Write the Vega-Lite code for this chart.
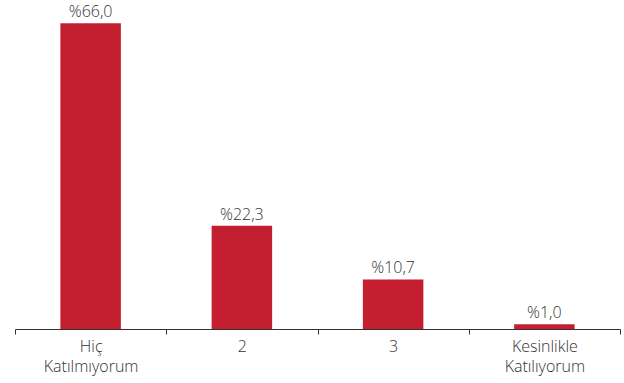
{
  "$schema": "https://vega.github.io/schema/vega-lite/v6.json",
  "width": 605,
  "height": 329,
  "autosize": {"type": "none"},
  "padding": {"left": 15, "top": 0, "right": 4, "bottom": 54},
  "background": "white",
  "config": {"view": {"stroke": null}, "font": "Open Sans"},
  "data": {
    "values": [
      {"kategori": "Hiç\nKatılmıyorum", "oran": 66.0, "etiket": "%66,0"},
      {"kategori": "2", "oran": 22.3, "etiket": "%22,3"},
      {"kategori": "3", "oran": 10.7, "etiket": "%10,7"},
      {"kategori": "Kesinlikle\nKatılıyorum", "oran": 1.0, "etiket": "%1,0"}
    ]
  },
  "encoding": {
    "x": {
      "field": "kategori",
      "type": "nominal",
      "sort": null,
      "scale": {"paddingInner": 0, "paddingOuter": 0},
      "axis": {
        "title": null,
        "labelAngle": 0,
        "labelExpr": "split(datum.label, '\\n')",
        "labelFontSize": 16,
        "labelFontWeight": 300,
        "labelLineHeight": 20.5,
        "labelColor": "#333333",
        "labelPadding": 4,
        "labelFont": "Open Sans",
        "domainColor": "#333333",
        "tickColor": "#333333",
        "tickSize": 5,
        "tickBand": "extent",
        "grid": false
      }
    },
    "y": {
      "field": "oran",
      "type": "quantitative",
      "scale": {"domain": [0, 71]},
      "axis": null
    }
  },
  "layer": [
    {
      "mark": {"type": "bar", "color": "#C41F30", "width": {"band": 0.4}}
    },
    {
      "mark": {"type": "text", "baseline": "bottom", "dy": -3, "fontSize": 16, "fontWeight": 300, "font": "Open Sans", "color": "#333333"},
      "encoding": {"text": {"field": "etiket"}}
    }
  ]
}
